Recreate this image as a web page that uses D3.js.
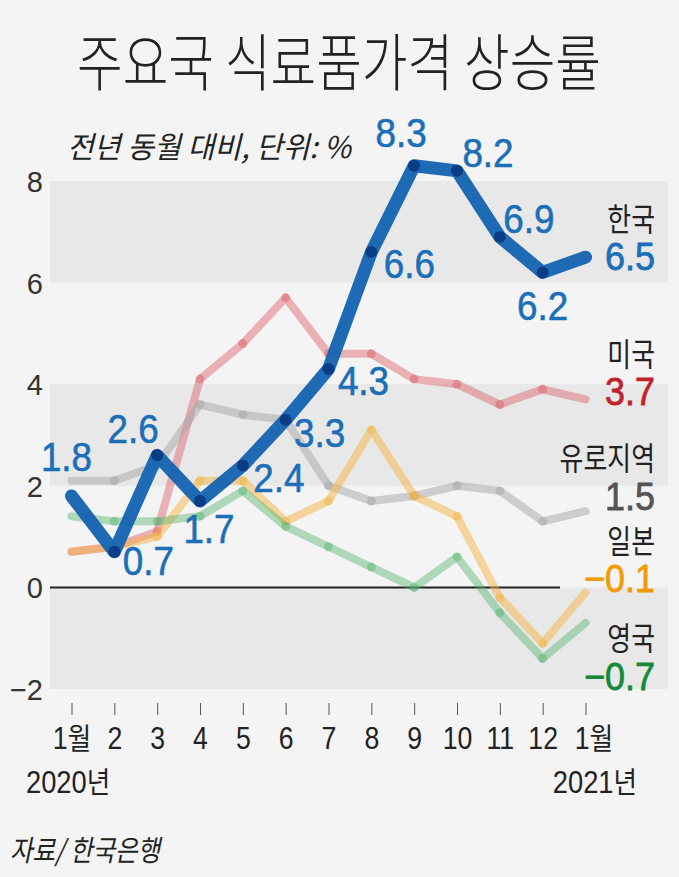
<!DOCTYPE html>
<html><head><meta charset="utf-8">
<script src="https://cdn.jsdelivr.net/npm/d3@7"></script>
<style>body{margin:0;background:#f4f4f4}svg{display:block}</style>
</head><body><svg id="c" width="679" height="877"></svg>
<script>
// ---- data ----
const months = ["1월","2","3","4","5","6","7","8","9","10","11","12","1월"];
const yearLabels = ["2020년","2021년"];
const yTicks = [-2,0,2,4,6,8];
const bandRanges = [[6,8],[2,4],[-2,0]];
const seriesNames = ["한국","미국","유로지역","일본","영국"];
const korea = [1.8,0.7,2.6,1.7,2.4,3.3,4.3,6.6,8.3,8.2,6.9,6.2,6.5];
const usa   = [0.7,0.8,1.1,4.1,4.8,5.7,4.6,4.6,4.1,4.0,3.6,3.9,3.7];
const euro  = [2.1,2.1,2.4,3.6,3.4,3.3,2.0,1.7,1.8,2.0,1.9,1.3,1.5];
const japan = [0.7,0.8,1.0,2.1,2.1,1.3,1.7,3.1,1.8,1.4,-0.2,-1.1,-0.1];
const uk    = [1.4,1.3,1.3,1.4,1.9,1.2,0.8,0.4,0.0,0.6,-0.5,-1.4,-0.7];

// ---- layout / style ----
const NUM = "'Liberation Sans',Arial,sans-serif";
const KR = "'Noto Sans CJK KR','Noto Sans',sans-serif";
const koreaLabelOffsets = [[-5,-25],[34,23],[-24,-12],[9,42],[36,27],[34,27],[35,26],[38,26],[-13,-19],[31,-4],[29,-4],[0,48]];
const rightLabels = [
  {nameY:231, valY:270, color:"#1a6fb8"},
  {nameY:366, valY:405, color:"#c41f2d"},
  {nameY:470, valY:510, color:"#555555"},
  {nameY:553, valY:592, color:"#f29b00"},
  {nameY:650, valY:690, color:"#16883a"}
];
const bgSeries = [
  {data:usa,   color:"#d9505e", op:0.42},
  {data:euro,  color:"#a6a6a6", op:0.5},
  {data:japan, color:"#f5b13c", op:0.48},
  {data:uk,    color:"#4fb068", op:0.42}
];
function condense(sel, f){
  sel.each(function(){
    const L = this.getComputedTextLength();
    this.setAttribute("textLength", (L*f).toFixed(2));
    this.setAttribute("lengthAdjust","spacingAndGlyphs");
  });
  return sel;
}

const svg = d3.select("#c");
svg.append("rect").attr("width",679).attr("height",877).attr("fill","#f4f4f4");

const x = d3.scalePoint().domain(d3.range(months.length)).range([71.5,585.5]);
const y = d3.scaleLinear().domain([-2,8]).range([689,181]);

// bands
svg.selectAll("rect.band").data(bandRanges).join("rect").attr("class","band")
  .attr("x",50).attr("width",618)
  .attr("y",d=>y(d[1])).attr("height",d=>y(d[0])-y(d[1]))
  .attr("fill","#e8e8e8");

// zero line
svg.append("line").attr("x1",50).attr("x2",560).attr("y1",y(0)).attr("y2",y(0))
  .attr("stroke","#222").attr("stroke-width",2);

// y axis
const yAxis = svg.append("g").attr("transform","translate(43,0)")
  .call(d3.axisLeft(y).tickValues(yTicks).tickSize(0).tickPadding(0));
yAxis.select(".domain").remove();
yAxis.selectAll("text").attr("font-family",NUM).attr("font-size",29).attr("fill","#333")
  .attr("font-weight",300).attr("dy","0.36em");

// x axis
const xAxis = svg.append("g").attr("transform","translate(0,703)")
  .call(d3.axisBottom(x).tickSize(12).tickFormat(i=>months[i]));
xAxis.select(".domain").remove();
xAxis.selectAll(".tick line").attr("stroke","#555").attr("stroke-width",1);
xAxis.selectAll("text").attr("font-family",NUM).attr("font-size",31).attr("fill","#222").attr("y",46).attr("dy",0)
  .each(function(d){
    const t=d3.select(this), s=months[d];
    if(/월/.test(s)){
      t.text("");
      t.append("tspan").text(s.replace("월",""));
      t.append("tspan").attr("font-family",KR).attr("font-size",30).text("월");
      if(d===months.length-1) t.attr("x",8);
    }
  });
condense(xAxis.selectAll("text"),0.86);

// year labels
const yl0 = svg.append("text").attr("x",26).attr("y",793).attr("font-family",NUM).attr("font-size",31).attr("fill","#222")
  .call(t=>{t.append("tspan").text(yearLabels[0].replace("년",""));t.append("tspan").attr("font-family",KR).attr("font-size",29).text("년");});
const yl1 = svg.append("text").attr("x",637).attr("y",793).attr("text-anchor","end").attr("font-family",NUM).attr("font-size",31).attr("fill","#222")
  .call(t=>{t.append("tspan").text(yearLabels[1].replace("년",""));t.append("tspan").attr("font-family",KR).attr("font-size",29).text("년");});
condense(yl0,0.88); condense(yl1,0.88);

// background series
const line = d3.line().x((d,i)=>x(i)).y(d=>y(d));
bgSeries.forEach(s=>{
  const g = svg.append("g");
  g.append("path").attr("d",line(s.data)).attr("fill","none").attr("stroke",s.color)
    .attr("stroke-width",8).attr("stroke-linecap","round").attr("stroke-linejoin","round").attr("stroke-opacity",s.op);
  g.selectAll("circle").data(s.data.slice(1,-1)).join("circle")
    .attr("cx",(d,i)=>x(i+1)).attr("cy",d=>y(d)).attr("r",4.5).attr("fill",s.color).attr("fill-opacity",s.op);
});

// korea
svg.append("path").attr("d",line(korea)).attr("fill","none").attr("stroke","#1765b2")
  .attr("stroke-width",13).attr("stroke-linecap","round").attr("stroke-linejoin","round").attr("stroke-opacity",0.97);
svg.selectAll("circle.k").data(korea.slice(1,-1)).join("circle").attr("class","k")
  .attr("cx",(d,i)=>x(i+1)).attr("cy",d=>y(d)).attr("r",6).attr("fill","#0b3d86");

// korea value labels
const kl = svg.selectAll("text.kl").data(korea.slice(0,-1)).join("text").attr("class","kl")
  .attr("x",(d,i)=>x(i)+koreaLabelOffsets[i][0]).attr("y",(d,i)=>y(d)+koreaLabelOffsets[i][1])
  .attr("text-anchor","middle").attr("font-family",NUM).attr("font-size",40).attr("fill","#1a6fb8")
  .attr("stroke","#1a6fb8").attr("stroke-width",0.6)
  .text(d=>d.toFixed(1));
condense(kl,0.92);

// right labels
const allSeries = [korea,usa,euro,japan,uk];
rightLabels.forEach((r,k)=>{
  const n = svg.append("text").attr("x",655).attr("y",r.nameY).attr("text-anchor","end")
    .attr("font-family",KR).attr("font-size",32).attr("fill","#222").text(seriesNames[k]);
  condense(n,0.81);
  const v = allSeries[k][allSeries[k].length-1];
  const t = svg.append("text").attr("x",655).attr("y",r.valY).attr("text-anchor","end")
    .attr("font-family",NUM).attr("font-size",39).attr("fill",r.color)
    .attr("stroke",r.color).attr("stroke-width",0.8)
    .text(v<0?"−"+Math.abs(v).toFixed(1):v.toFixed(1));
  condense(t,0.92);
});

// title
svg.append("text").attr("x",339).attr("y",86).attr("text-anchor","middle")
  .attr("font-family",KR).attr("font-weight",300).attr("font-size",62).attr("fill","#222")
  .attr("textLength",524).attr("lengthAdjust","spacingAndGlyphs").text("주요국 식료품가격 상승률");
// subtitle
svg.append("text").attr("x",67).attr("y",158).attr("font-family",KR).attr("font-style","italic")
  .attr("font-size",30).attr("fill","#222").attr("textLength",284).attr("lengthAdjust","spacingAndGlyphs")
  .text("전년 동월 대비, 단위: %");
// source
svg.append("text").attr("x",10).attr("y",861).attr("font-family",KR).attr("font-style","italic")
  .attr("font-size",29).attr("fill","#222").attr("textLength",150).attr("lengthAdjust","spacingAndGlyphs")
  .text("자료/ 한국은행");
</script></body></html>
